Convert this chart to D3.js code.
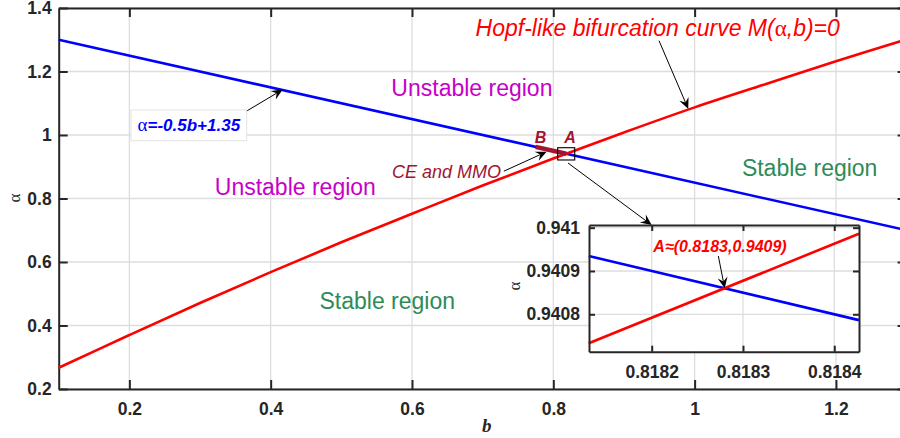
<!DOCTYPE html>
<html>
<head>
<meta charset="utf-8">
<script src="https://cdn.jsdelivr.net/npm/d3@7"></script>
<style>
  body { margin: 0; background: #fff; }
  svg { display: block; }
  .tick text { font-family: "Liberation Sans", Arial, sans-serif; font-weight: bold; fill: #262626; }
</style>
</head>
<body>
<script>
// Hopf-like bifurcation curve
var hopfB = [0.1, 0.2, 0.3, 0.4, 0.5, 0.6, 0.7, 0.8, 0.9, 1.0, 1.1, 1.2, 1.3];
var hopfA = [0.267, 0.370, 0.471, 0.568, 0.662, 0.752, 0.841, 0.926, 1.008, 1.087, 1.160, 1.232, 1.301];
// line alpha = -0.5b + 1.35
var lineB = [0.1, 1.3];
var lineA = [1.30, 0.70];
// CE and MMO segment from B to A along the line
var segB = [0.775, 0.8183];
var segA = [0.9625, 0.94085];

var xTicks = [0.2, 0.4, 0.6, 0.8, 1.0, 1.2];
var xTickLabels = ["0.2", "0.4", "0.6", "0.8", "1", "1.2"];
var yTicks = [0.2, 0.4, 0.6, 0.8, 1.0, 1.2, 1.4];
var yTickLabels = ["0.2", "0.4", "0.6", "0.8", "1", "1.2", "1.4"];

// zoomed inset
var insetHopfB = [0.818131, 0.818427];
var insetHopfA = [0.940733, 0.940986];
var insetLineB = [0.818131, 0.818427];
var insetLineA = [0.9409345, 0.9407865];
var insetXTicks = [0.8182, 0.8183, 0.8184];
var insetXTickLabels = ["0.8182", "0.8183", "0.8184"];
var insetYTicks = [0.9408, 0.9409, 0.941];
var insetYTickLabels = ["0.9408", "0.9409", "0.941"];
var pointA = [0.81828, 0.94086];

var W = 900, H = 438;
var axisColor = "#262626", gridColor = "#dedede";
var maroon = "#a2142f", magenta = "#c800c8", green = "#2e8b57";
var sans = "'Liberation Sans', Arial, sans-serif";
var serif = "'Liberation Serif', 'Times New Roman', serif";

var svg = d3.select("body").append("svg")
    .attr("width", W)
    .attr("height", H);

var mLeft = 58.7, mRight = 906.6, mTop = 8, mBottom = 389;

var x = d3.scaleLinear().domain([0.1, 1.3]).range([mLeft, mRight]);
var y = d3.scaleLinear().domain([0.2, 1.4]).range([mBottom, mTop]);

function zip(a, b) { return a.map(function(d, i){ return [d, b[i]]; }); }

// grid
var grid = svg.append("g");
grid.selectAll(".gx").data(xTicks).enter().append("line")
    .attr("x1", function(d){ return x(d); }).attr("x2", function(d){ return x(d); })
    .attr("y1", mTop).attr("y2", mBottom)
    .attr("stroke", gridColor).attr("stroke-width", 1.3);
grid.selectAll(".gy").data(yTicks).enter().append("line")
    .attr("x1", mLeft).attr("x2", mRight)
    .attr("y1", function(d){ return y(d); }).attr("y2", function(d){ return y(d); })
    .attr("stroke", gridColor).attr("stroke-width", 1.3);

// axes (ticks pointing inward on all sides)
function styleAxis(g) {
    g.select(".domain").attr("stroke", axisColor).attr("stroke-width", 2);
    g.selectAll(".tick line").attr("stroke", axisColor).attr("stroke-width", 2);
}

svg.append("g")
    .attr("transform", "translate(0," + mBottom + ")")
    .call(d3.axisBottom(x).tickValues(xTicks).tickSizeInner(-9).tickSizeOuter(0).tickPadding(14)
        .tickFormat(function(d, i){ return xTickLabels[i]; }))
    .call(styleAxis)
    .selectAll("text").style("font-size", "17.5px");

svg.append("g")
    .attr("transform", "translate(" + mLeft + ",0)")
    .call(d3.axisLeft(y).tickValues(yTicks).tickSizeInner(-9).tickSizeOuter(0).tickPadding(7)
        .tickFormat(function(d, i){ return yTickLabels[i]; }))
    .call(styleAxis)
    .selectAll("text").style("font-size", "17.5px");

svg.append("g")
    .attr("transform", "translate(0," + mTop + ")")
    .call(d3.axisTop(x).tickValues(xTicks).tickSizeInner(-9).tickSizeOuter(0).tickFormat(""))
    .call(styleAxis);

svg.append("g")
    .attr("transform", "translate(" + mRight + ",0)")
    .call(d3.axisRight(y).tickValues(yTicks).tickSizeInner(-9).tickSizeOuter(0).tickFormat(""))
    .call(styleAxis);

// axis labels
svg.append("text")
    .attr("x", 486.7).attr("y", 432)
    .attr("text-anchor", "middle")
    .style("font-family", serif).style("font-style", "italic").style("font-weight", "bold")
    .style("font-size", "19px").attr("fill", axisColor)
    .text("b");

svg.append("text")
    .attr("transform", "translate(20,198) rotate(-90)")
    .attr("text-anchor", "middle")
    .style("font-family", serif).style("font-size", "17px").attr("fill", axisColor)
    .text("α");

// curves
var line = d3.line()
    .x(function(d){ return x(d[0]); })
    .y(function(d){ return y(d[1]); })
    .curve(d3.curveCatmullRom);

var plot = svg.append("g");
plot.append("path").datum(zip(lineB, lineA))
    .attr("d", line).attr("fill", "none").attr("stroke", "#0000ff").attr("stroke-width", 2.6);
plot.append("path").datum(zip(hopfB, hopfA))
    .attr("d", line).attr("fill", "none").attr("stroke", "#ff0000").attr("stroke-width", 2.6);
plot.append("path").datum(zip(segB, segA))
    .attr("d", line).attr("fill", "none").attr("stroke", maroon).attr("stroke-width", 4.5);

// small box around A
plot.append("rect")
    .attr("x", x(0.8062)).attr("y", y(0.96))
    .attr("width", x(0.8303) - x(0.8062)).attr("height", y(0.9213) - y(0.96))
    .attr("fill", "none").attr("stroke", "#000").attr("stroke-width", 1.1);

// arrows
function arrow(x1, y1, x2, y2) {
    var g = svg.append("g");
    var ang = Math.atan2(y2 - y1, x2 - x1);
    var L = 11, Wd = 5, notch = 7;
    g.append("line")
        .attr("x1", x1).attr("y1", y1)
        .attr("x2", x2 - Math.cos(ang) * notch).attr("y2", y2 - Math.sin(ang) * notch)
        .attr("stroke", "#000").attr("stroke-width", 1);
    var c = Math.cos(ang), s = Math.sin(ang);
    function pt(a, b) { return [x2 + a * c - b * s, y2 + a * s + b * c]; }
    var p = [pt(0, 0), pt(-L, Wd), pt(-notch, 0), pt(-L, -Wd)];
    g.append("path")
        .attr("d", "M" + p.map(function(q){ return q.join(","); }).join("L") + "Z")
        .attr("fill", "#000");
}

arrow(x(0.3637), y(1.0724), x(0.417), y(1.143));
arrow(x(0.9496), y(1.297), x(0.991), y(1.082));
arrow(x(0.730), y(0.886), x(0.7906), y(0.9474));
arrow(x(0.8208), y(0.9118), x(0.9392), y(0.7165));

// texts
function label(bx, ay, str, color, size, opts) {
    opts = opts || {};
    return svg.append("text")
        .attr("x", x(bx)).attr("y", y(ay))
        .attr("dy", "0.36em")
        .attr("text-anchor", opts.anchor || "middle")
        .style("font-family", sans)
        .style("font-size", size + "px")
        .style("font-style", opts.italic ? "italic" : "normal")
        .style("font-weight", opts.bold ? "bold" : "normal")
        .attr("fill", color)
        .text(str);
}

var hopf = label(0.690, 1.3392, "Hopf-like bifurcation curve M(", "#ff0000", 23, {anchor: "start", italic: true});
hopf.append("tspan").style("font-family", serif).style("font-style", "normal").text("α");
hopf.append("tspan").text(",b)=0");

label(0.6848, 1.148, "Unstable region", magenta, 23);
label(0.4349, 0.8372, "Unstable region", magenta, 23);
label(1.1628, 0.8983, "Stable region", green, 23);
label(0.565, 0.478, "Stable region", green, 23);
label(0.726, 0.8835, "CE and MMO", maroon, 18, {anchor: "end", italic: true});
label(0.782, 0.9937, "B", maroon, 16, {italic: true, bold: true});
label(0.8236, 0.9937, "A", maroon, 16, {italic: true, bold: true});

// formula box
svg.append("rect")
    .attr("x", x(0.2023)).attr("y", y(1.0787))
    .attr("width", x(0.3661) - x(0.2023)).attr("height", y(0.982) - y(1.0787))
    .attr("fill", "#fff").attr("stroke", "#e3e3e3").attr("stroke-width", 1);
var f = svg.append("text")
    .attr("x", (x(0.2023) + x(0.3661)) / 2).attr("y", y(1.0305))
    .attr("dy", "0.36em").attr("text-anchor", "middle")
    .attr("fill", "#0000ff").style("font-size", "17px");
f.append("tspan").style("font-family", serif).style("font-size", "19px").text("α");
f.append("tspan").style("font-family", sans).style("font-weight", "bold").style("font-style", "italic").text("=-0.5b+1.35");

// inset
var iL = 589, iR = 859, iT = 225, iB = 351.7;
var ix = d3.scaleLinear().domain([0.8181313, 0.8184271]).range([iL, iR]);
var iy = d3.scaleLinear().domain([0.9407136, 0.9410062]).range([iB, iT]);
var inset = svg.append("g");
inset.append("rect").attr("x", iL).attr("y", iT).attr("width", iR - iL).attr("height", iB - iT).attr("fill", "#fff");
inset.selectAll(".igx").data(insetXTicks).enter().append("line")
    .attr("x1", function(d){ return ix(d); }).attr("x2", function(d){ return ix(d); })
    .attr("y1", iT).attr("y2", iB)
    .attr("stroke", gridColor).attr("stroke-width", 1.3);
inset.selectAll(".igy").data(insetYTicks).enter().append("line")
    .attr("x1", iL).attr("x2", iR)
    .attr("y1", function(d){ return iy(d); }).attr("y2", function(d){ return iy(d); })
    .attr("stroke", gridColor).attr("stroke-width", 1.3);

var iline = d3.line().x(function(d){ return ix(d[0]); }).y(function(d){ return iy(d[1]); });
inset.append("path").datum(zip(insetLineB, insetLineA))
    .attr("d", iline).attr("fill", "none").attr("stroke", "#0000ff").attr("stroke-width", 2.6);
inset.append("path").datum(zip(insetHopfB, insetHopfA))
    .attr("d", iline).attr("fill", "none").attr("stroke", "#ff0000").attr("stroke-width", 2.6);

inset.append("g").attr("transform", "translate(0," + iB + ")")
    .call(d3.axisBottom(ix).tickValues(insetXTicks).tickSizeInner(-6).tickSizeOuter(0).tickPadding(14)
        .tickFormat(function(d, i){ return insetXTickLabels[i]; }))
    .call(styleAxis).selectAll("text").style("font-size", "17.5px");
inset.append("g").attr("transform", "translate(" + iL + ",0)")
    .call(d3.axisLeft(iy).tickValues(insetYTicks).tickSizeInner(-6).tickSizeOuter(0).tickPadding(9)
        .tickFormat(function(d, i){ return insetYTickLabels[i]; }))
    .call(styleAxis).selectAll("text").style("font-size", "17.5px");
inset.append("g").attr("transform", "translate(0," + iT + ")")
    .call(d3.axisTop(ix).tickValues(insetXTicks).tickSizeInner(-6).tickSizeOuter(0).tickFormat(""))
    .call(styleAxis);
inset.append("g").attr("transform", "translate(" + iR + ",0)")
    .call(d3.axisRight(iy).tickValues(insetYTicks).tickSizeInner(-6).tickSizeOuter(0).tickFormat(""))
    .call(styleAxis);

svg.append("text")
    .attr("transform", "translate(520,286) rotate(-90)")
    .attr("text-anchor", "middle")
    .style("font-family", serif).style("font-size", "17px").attr("fill", axisColor)
    .text("α");

svg.append("text")
    .attr("x", 720).attr("y", 246.7).attr("dy", "0.36em")
    .attr("text-anchor", "middle")
    .style("font-family", sans).style("font-weight", "bold").style("font-style", "italic")
    .style("font-size", "16px").attr("fill", "#ff0000")
    .text("A≈(0.8183,0.9409)");

arrow(ix(0.818273), iy(0.9409346), ix(pointA[0]), iy(pointA[1]));
</script>
</body>
</html>
